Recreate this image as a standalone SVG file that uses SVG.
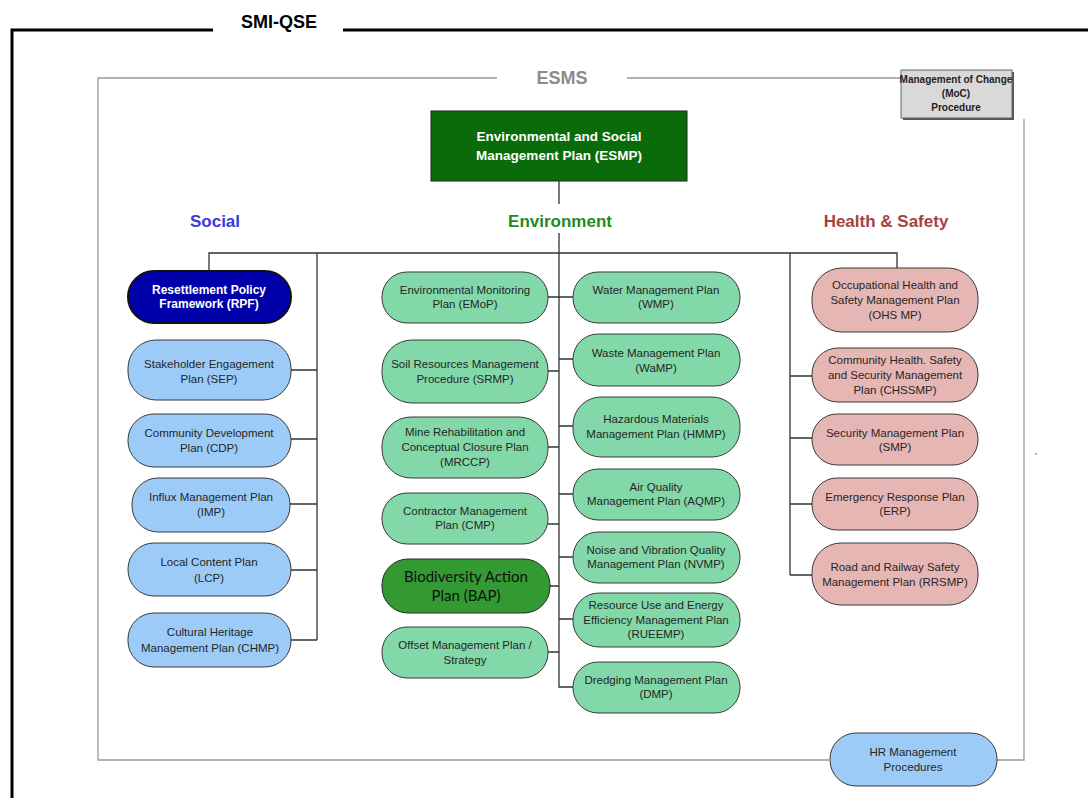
<svg xmlns="http://www.w3.org/2000/svg" width="1088" height="798" viewBox="0 0 1088 798">
<style>
.t{font-family:"Liberation Sans",Arial,sans-serif;font-size:11.5px;fill:#262626;text-anchor:middle}
.tb{font-family:"Liberation Sans",Arial,sans-serif;font-size:12px;font-weight:bold;fill:#fff;text-anchor:middle}
.hd{font-family:"Liberation Sans",Arial,sans-serif;font-size:17px;font-weight:bold;text-anchor:middle}
.soc{fill:#9ccbf8;stroke:#3a3a3a;stroke-width:1}
.env{fill:#82d8a8;stroke:#3a3a3a;stroke-width:1}
.hs{fill:#e6b6b4;stroke:#3a3a3a;stroke-width:1}
.ln{stroke:#333;stroke-width:1.3;fill:none}
.gl{stroke:#999;stroke-width:1.3;fill:none}
</style>
<rect width="1088" height="798" fill="#fff"/>
<g id="frame">
<path d="M213,30 H12 V798" stroke="#000" stroke-width="3" fill="none"/>
<path d="M343,30 H1088" stroke="#000" stroke-width="3" fill="none"/>
<text x="279" y="28" class="hd" style="fill:#000;font-size:18px">SMI-QSE</text>
</g>
<g id="esms">
<path d="M497,78 H98 V760 H829" class="gl"/>
<path d="M627,78 H901" class="gl"/>
<path d="M1024,119 V760 H997" class="gl"/>
<text x="562" y="84" class="hd" style="fill:#8c8c8c;font-size:18px">ESMS</text>
</g>
<g id="moc">
<rect x="903" y="72" width="111" height="48" fill="#555"/>
<rect x="901" y="70" width="111" height="48" fill="#d9d9d9" stroke="#666" stroke-width="1"/>
<text class="t" style="font-weight:bold;font-size:10px;fill:#222"><tspan x="956" y="83">Management of Change</tspan><tspan x="956" y="97">(MoC)</tspan><tspan x="956" y="111">Procedure</tspan></text>
</g>
<g id="esmp">
<rect x="431" y="111" width="256" height="70" fill="#0a6b0a" stroke="#222" stroke-width="1"/>
<text class="tb" style="font-size:13.5px"><tspan x="559" y="141">Environmental and Social</tspan><tspan x="559" y="160">Management Plan (ESMP)</tspan></text>
</g>
<g id="labels">
<text x="215" y="227" class="hd" style="fill:#3b3bd4">Social</text>
<text x="560" y="227" class="hd" style="fill:#1f8a1f">Environment</text>
<text x="886" y="227" class="hd" style="fill:#a8423e">Health &amp; Safety</text>
</g>
<g id="connectors">
<path d="M559,181 V204 M559,233 V253" class="ln"/>
<path d="M209,271 V253 H897 V268" class="ln"/>
<path d="M317,253 V640" class="ln"/>
<path d="M291,370 H317 M291,439 H317 M290,504 H317 M291,570 H317 M291,640 H317" class="ln"/>
<path d="M559,253 V687 H573" class="ln"/>
<path d="M548,297 H573 M548,371 H559 M548,447 H559 M548,524 H559 M550,586 H559 M548,652 H559" class="ln"/>
<path d="M559,359 H573 M559,426 H573 M559,494 H573 M559,557 H573 M559,619 H573" class="ln"/>
<path d="M790,253 V575 M790,376 H812 M790,438 H812 M790,504 H812 M790,575 H812" class="ln"/>
</g>
<g id="rpf"><rect x="128" y="271" width="163" height="52" rx="26" fill="#0000a8" stroke="#111" stroke-width="2"/>
<text class="tb"><tspan x="209" y="294">Resettlement Policy</tspan><tspan x="209" y="308">Framework (RPF)</tspan></text></g>
<g id="sep"><rect x="128" y="340" width="163" height="60" rx="28" class="soc"/>
<text class="t"><tspan x="209" y="368">Stakeholder Engagement</tspan><tspan x="209" y="383">Plan (SEP)</tspan></text></g>
<g id="cdp"><rect x="128" y="414" width="163" height="53" rx="26" class="soc"/>
<text class="t"><tspan x="209" y="437">Community Development</tspan><tspan x="209" y="452">Plan (CDP)</tspan></text></g>
<g id="imp"><rect x="132" y="478" width="158" height="54" rx="26" class="soc"/>
<text class="t"><tspan x="211" y="501">Influx Management Plan</tspan><tspan x="211" y="516">(IMP)</tspan></text></g>
<g id="lcp"><rect x="128" y="543" width="163" height="53" rx="26" class="soc"/>
<text class="t"><tspan x="209" y="566">Local Content Plan</tspan><tspan x="209" y="582">(LCP)</tspan></text></g>
<g id="chmp"><rect x="128" y="613" width="163" height="54" rx="26" class="soc"/>
<text class="t"><tspan x="210" y="636">Cultural Heritage</tspan><tspan x="210" y="652">Management Plan (CHMP)</tspan></text></g>
<g id="emop"><rect x="382" y="272" width="166" height="51" rx="25" class="env"/>
<text class="t"><tspan x="465" y="294">Environmental Monitoring</tspan><tspan x="465" y="308">Plan (EMoP)</tspan></text></g>
<g id="srmp"><rect x="382" y="340" width="166" height="63" rx="30" class="env"/>
<text class="t"><tspan x="465" y="368">Soil Resources Management</tspan><tspan x="465" y="383">Procedure (SRMP)</tspan></text></g>
<g id="mrccp"><rect x="382" y="417" width="166" height="61" rx="29" class="env"/>
<text class="t"><tspan x="465" y="436">Mine Rehabilitation and</tspan><tspan x="465" y="451">Conceptual Closure Plan</tspan><tspan x="465" y="466">(MRCCP)</tspan></text></g>
<g id="cmp"><rect x="382" y="493" width="166" height="51" rx="25" class="env"/>
<text class="t"><tspan x="465" y="515">Contractor Management</tspan><tspan x="465" y="529">Plan (CMP)</tspan></text></g>
<g id="bap"><rect x="382" y="559" width="168" height="54" rx="26" fill="#339933" stroke="#2a2a2a" stroke-width="1"/>
<text class="t" style="font-family:Lato,'Liberation Sans',sans-serif;font-size:15px;fill:#111"><tspan x="466" y="582">Biodiversity Action</tspan><tspan x="466" y="601">Plan (BAP)</tspan></text></g>
<g id="omp"><rect x="382" y="627" width="166" height="51" rx="25" class="env"/>
<text class="t"><tspan x="465" y="649">Offset Management Plan /</tspan><tspan x="465" y="664">Strategy</tspan></text></g>
<g id="wmp"><rect x="573" y="272" width="167" height="51" rx="25" class="env"/>
<text class="t"><tspan x="656" y="294">Water Management Plan</tspan><tspan x="656" y="308">(WMP)</tspan></text></g>
<g id="wamp"><rect x="573" y="334" width="167" height="52" rx="25" class="env"/>
<text class="t"><tspan x="656" y="357">Waste Management Plan</tspan><tspan x="656" y="372">(WaMP)</tspan></text></g>
<g id="hmmp"><rect x="573" y="397" width="167" height="60" rx="28" class="env"/>
<text class="t"><tspan x="656" y="423">Hazardous Materials</tspan><tspan x="656" y="438">Management Plan (HMMP)</tspan></text></g>
<g id="aqmp"><rect x="573" y="469" width="167" height="51" rx="25" class="env"/>
<text class="t"><tspan x="656" y="491">Air Quality</tspan><tspan x="656" y="505">Management Plan (AQMP)</tspan></text></g>
<g id="nvmp"><rect x="573" y="532" width="167" height="51" rx="25" class="env"/>
<text class="t"><tspan x="656" y="554">Noise and Vibration Quality</tspan><tspan x="656" y="568">Management Plan (NVMP)</tspan></text></g>
<g id="rueemp"><rect x="573" y="593" width="167" height="54" rx="26" class="env"/>
<text class="t"><tspan x="656" y="609">Resource Use and Energy</tspan><tspan x="656" y="624">Efficiency Management Plan</tspan><tspan x="656" y="638">(RUEEMP)</tspan></text></g>
<g id="dmp"><rect x="573" y="662" width="167" height="51" rx="25" class="env"/>
<text class="t"><tspan x="656" y="684">Dredging Management Plan</tspan><tspan x="656" y="698">(DMP)</tspan></text></g>
<g id="ohs"><rect x="812" y="268" width="166" height="64" rx="30" class="hs"/>
<text class="t"><tspan x="895" y="289">Occupational Health and</tspan><tspan x="895" y="304">Safety Management Plan</tspan><tspan x="895" y="319">(OHS MP)</tspan></text></g>
<g id="chssmp"><rect x="812" y="348" width="166" height="54" rx="26" class="hs"/>
<text class="t"><tspan x="895" y="364">Community Health. Safety</tspan><tspan x="895" y="379">and Security Management</tspan><tspan x="895" y="394">Plan (CHSSMP)</tspan></text></g>
<g id="smp"><rect x="812" y="414" width="166" height="51" rx="25" class="hs"/>
<text class="t"><tspan x="895" y="437">Security Management Plan</tspan><tspan x="895" y="451">(SMP)</tspan></text></g>
<g id="erp"><rect x="812" y="478" width="166" height="52" rx="25" class="hs"/>
<text class="t"><tspan x="895" y="501">Emergency Response Plan</tspan><tspan x="895" y="515">(ERP)</tspan></text></g>
<g id="rrsmp"><rect x="812" y="543" width="166" height="62" rx="29" class="hs"/>
<text class="t"><tspan x="895" y="571">Road and Railway Safety</tspan><tspan x="895" y="586">Management Plan (RRSMP)</tspan></text></g>
<g id="hr"><rect x="830" y="733" width="167" height="53" rx="26" class="soc"/>
<text class="t"><tspan x="913" y="756">HR Management</tspan><tspan x="913" y="771">Procedures</tspan></text></g>
<circle cx="1036" cy="454" r="0.8" fill="#555"/>
</svg>
